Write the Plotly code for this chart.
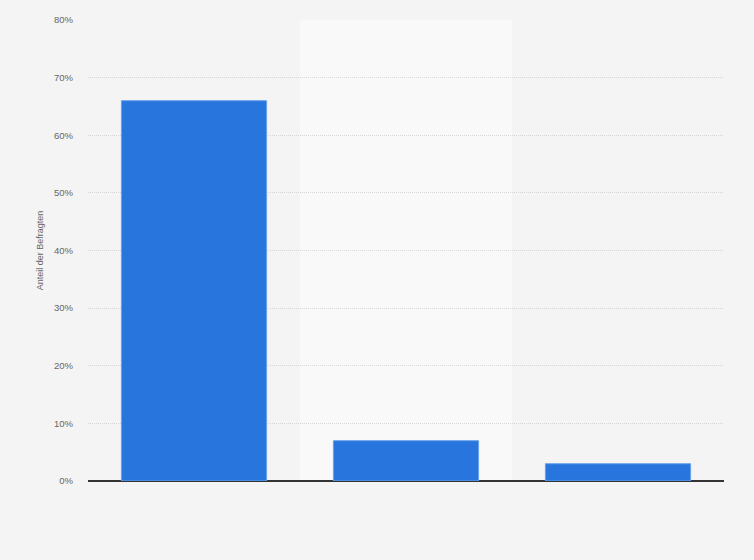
import plotly.graph_objects as go

# survey shares (percent), category labels are not shown on the chart
categories = ["Kategorie 1", "Kategorie 2", "Kategorie 3"]
shares = [66, 7, 3]
y_ticks = [0, 10, 20, 30, 40, 50, 60, 70, 80]
y_tick_labels = [f"{t}%" for t in y_ticks]

fig = go.Figure()
fig.add_trace(go.Bar(
    x=categories,
    y=shares,
    width=0.685,
    marker=dict(color="#2876dd", line=dict(color="#6aa3ea", width=1)),
    hoverinfo="x+y",
))

# lighter band behind the middle category
fig.add_shape(type="rect", xref="x", yref="y", x0=0.5, x1=1.5, y0=0, y1=80,
              fillcolor="#f9f9f9", line_width=0, layer="below")

fig.update_layout(
    width=754, height=560,
    margin=dict(l=88, r=30, t=20, b=79),
    paper_bgcolor="#f4f4f4",
    plot_bgcolor="#f4f4f4",
    font=dict(family="Liberation Sans, Arial, sans-serif", size=9, color="#666666"),
    showlegend=False,
    bargap=0.3,
)
fig.update_xaxes(
    showticklabels=False,
    showgrid=False,
    zeroline=False,
    showline=False,
    range=[-0.5, 2.5],
)
fig.update_yaxes(
    range=[0, 80],
    tickvals=y_ticks,
    ticktext=y_tick_labels,
    tickfont=dict(size=9.5, color="#666666"),
    ticks="",
    ticklabelstandoff=14,
    showgrid=True,
    gridcolor="#d6d6d6",
    griddash="1px,1px",
    gridwidth=1,
    zeroline=True,
    zerolinecolor="#333333",
    zerolinewidth=1.5,
    title=dict(text="Anteil der Befragten", font=dict(size=9, color="#666666"), standoff=8),
)

# drop the default page margin so the figure sits at the window corner
fig.write_html("out.html", config={"displayModeBar": False},
               post_script="document.body.style.margin='0';")
